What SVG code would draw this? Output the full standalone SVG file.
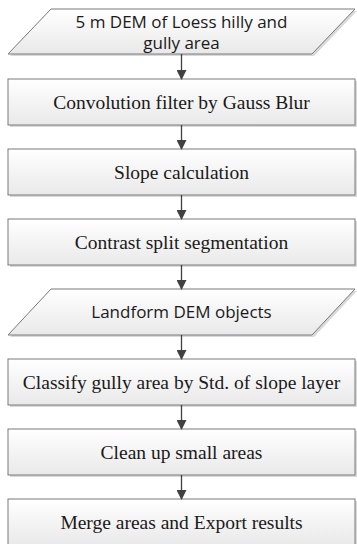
<svg xmlns="http://www.w3.org/2000/svg" width="357" height="544" viewBox="0 0 357 544">
<defs>
<linearGradient id="g" x1="0" y1="0" x2="0" y2="1">
<stop offset="0" stop-color="#ffffff"/>
<stop offset="1" stop-color="#e9e9e9"/>
</linearGradient>
<marker id="ah" markerWidth="10" markerHeight="10" refX="9" refY="5" orient="auto" markerUnits="userSpaceOnUse">
<path d="M0,0 L10,5 L0,10 Z" fill="#404040"/>
</marker>
</defs>
<style>
.box{fill:url(#g);stroke:#7a7a7a;stroke-width:1}
.sh{fill:#d9d9d9}
.serif{font-family:"Liberation Serif","Times New Roman",serif;font-size:19.5px;fill:#1a1a1a;text-anchor:middle}
.sans{font-family:"Open Sans","Noto Sans",sans-serif;font-size:17px;fill:#1a1a1a;text-anchor:middle}
.con{stroke:#404040;stroke-width:1.3;fill:none;marker-end:url(#ah)}
</style>
<rect width="357" height="544" fill="#ffffff"/>
<g id="n1">
<polygon class="sh" points="53,11 357,11 314,56 10,56"/>
<polygon class="box" points="51,9 355,9 312,54 8,54"/>
<text class="sans" x="181.5" y="28">5 m DEM of Loess hilly and</text>
<text class="sans" x="181.5" y="49">gully area</text>
</g>
<g id="n2">
<rect class="sh" x="10" y="81" width="347" height="46"/>
<rect class="box" x="8" y="79" width="347" height="46"/>
<text class="serif" x="181.5" y="108.5">Convolution filter by Gauss Blur</text>
</g>
<g id="n3">
<rect class="sh" x="10" y="151" width="347" height="46"/>
<rect class="box" x="8" y="149" width="347" height="46"/>
<text class="serif" x="181.5" y="178.5">Slope calculation</text>
</g>
<g id="n4">
<rect class="sh" x="10" y="221" width="347" height="46"/>
<rect class="box" x="8" y="219" width="347" height="46"/>
<text class="serif" x="181.5" y="248.5">Contrast split segmentation</text>
</g>
<g id="n5">
<polygon class="sh" points="53,291 357,291 314,337 10,337"/>
<polygon class="box" points="51,289 355,289 312,335 8,335"/>
<text class="sans" x="181.5" y="318">Landform DEM objects</text>
</g>
<g id="n6">
<rect class="sh" x="10" y="361" width="347" height="46"/>
<rect class="box" x="8" y="359" width="347" height="46"/>
<text class="serif" x="181.5" y="388.5">Classify gully area by Std. of slope layer</text>
</g>
<g id="n7">
<rect class="sh" x="10" y="431" width="347" height="46"/>
<rect class="box" x="8" y="429" width="347" height="46"/>
<text class="serif" x="181.5" y="458.5">Clean up small areas</text>
</g>
<g id="n8">
<rect class="sh" x="10" y="501" width="347" height="46"/>
<rect class="box" x="8" y="499" width="347" height="46"/>
<text class="serif" x="181.5" y="528.5">Merge areas and Export results</text>
</g>
<g id="connectors">
<line class="con" x1="181.5" y1="54" x2="181.5" y2="79"/>
<line class="con" x1="181.5" y1="125" x2="181.5" y2="149"/>
<line class="con" x1="181.5" y1="195" x2="181.5" y2="219"/>
<line class="con" x1="181.5" y1="265" x2="181.5" y2="289"/>
<line class="con" x1="181.5" y1="335" x2="181.5" y2="359"/>
<line class="con" x1="181.5" y1="405" x2="181.5" y2="429"/>
<line class="con" x1="181.5" y1="475" x2="181.5" y2="499"/>
</g>
</svg>
